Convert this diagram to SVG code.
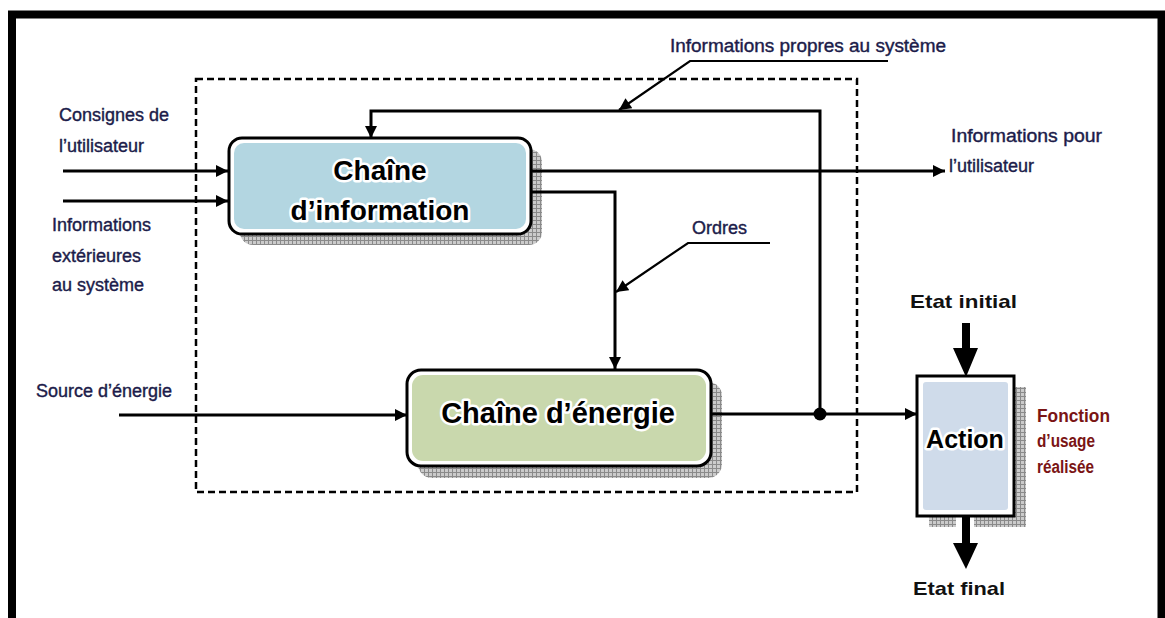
<svg xmlns="http://www.w3.org/2000/svg" width="1165" height="618" viewBox="0 0 1165 618">
  <style>
    .lbl { font-family: "Liberation Sans", Arial, sans-serif; font-size: 18px; fill: #1c1c4a; stroke: #1c1c4a; stroke-width: 0.4px; }
    .state { font-family: "Liberation Sans", Arial, sans-serif; font-size: 19px; font-weight: bold; fill: #111; }
    .usage { font-family: "Liberation Sans", Arial, sans-serif; font-size: 18px; font-weight: bold; fill: #7a1414; }
    .title { font-family: "Liberation Sans", Arial, sans-serif; font-weight: bold; fill: #000; text-anchor: middle;
             stroke: #fff; stroke-width: 5px; stroke-linejoin: round; paint-order: stroke fill; }
    .box { stroke: #000; stroke-width: 3; fill: #fff; }
    .link { fill: none; stroke: #000; stroke-width: 3; }
    .leader { fill: none; stroke: #000; stroke-width: 2.2; }
    .shadow { fill: url(#hatch); }
  </style>
  <defs>
    <pattern id="hatch" width="4" height="4" patternUnits="userSpaceOnUse">
      <rect width="4" height="4" fill="#cbcbcb"/>
      <path d="M0,0.5 H4 M0.5,0 V4" stroke="#8a8a8a" stroke-width="1"/>
    </pattern>
    <marker id="arrow" viewBox="0 0 10 10" refX="10" refY="5" markerWidth="13" markerHeight="12"
            markerUnits="userSpaceOnUse" orient="auto">
      <path d="M0,0 L10,5 L0,10 Z" fill="#000"/>
    </marker>
  </defs>

  <rect width="1165" height="618" fill="#fff"/>

  <!-- outer frame, open at the bottom -->
  <path d="M12,618 V14.5 H1161.5 V618" fill="none" stroke="#000" stroke-width="8"/>

  <!-- system boundary -->
  <rect x="196" y="79" width="661" height="413" fill="none" stroke="#000" stroke-width="2.5" stroke-dasharray="7 4"/>

  <!-- information chain -->
  <g id="chaine-information">
    <rect class="shadow" x="240" y="149" width="302" height="96" rx="13"/>
    <rect class="box" x="229" y="138" width="302" height="96" rx="13"/>
    <rect x="234" y="143" width="292" height="86" rx="10" fill="#b3d6e1"/>
    <text class="title" x="380" y="180" font-size="28">Chaîne</text>
    <text class="title" x="380" y="220" font-size="28">d’information</text>
  </g>

  <!-- energy chain -->
  <g id="chaine-energie">
    <rect class="shadow" x="418" y="382" width="304" height="96" rx="14"/>
    <rect class="box" x="407" y="370" width="304" height="96" rx="14"/>
    <rect x="412" y="375" width="294" height="86" rx="11" fill="#c9d8ad"/>
    <text class="title" x="558" y="423" font-size="29">Chaîne d’énergie</text>
  </g>

  <!-- action block -->
  <g id="action">
    <rect class="shadow" x="929" y="387" width="97" height="140"/>
    <rect x="956" y="515" width="18" height="14" fill="#fff"/>
    <rect class="box" x="917" y="376" width="97" height="140"/>
    <rect x="923" y="382" width="85" height="128" rx="3" fill="#cfdbea"/>
    <text class="title" x="965" y="448" font-size="25">Action</text>
  </g>

  <!-- connectors -->
  <g id="connectors">
    <path class="link" d="M63,171 H228" marker-end="url(#arrow)"/>
    <path class="link" d="M63,201 H228" marker-end="url(#arrow)"/>
    <path class="link" d="M531,171 H945" marker-end="url(#arrow)"/>
    <path class="link" d="M531,192 H615 V369" marker-end="url(#arrow)"/>
    <path class="link" d="M119,415 H407" marker-end="url(#arrow)"/>
    <path class="link" d="M711,414 H917" marker-end="url(#arrow)"/>
    <path class="link" d="M820,414 V111 H371 V138" marker-end="url(#arrow)"/>
    <circle cx="820" cy="414" r="6.5" fill="#000"/>
    <path class="leader" d="M888,61 H690 L619,110" marker-end="url(#arrow)"/>
    <path class="leader" d="M770,243 H688 L616,292" marker-end="url(#arrow)"/>
    <!-- thick state arrows -->
    <path d="M962,323 H970 V348 H978 L966,377 L953,348 H962 Z" fill="#000"/>
    <path d="M962,516 H970 V543 H978 L966,569 L953,543 H962 Z" fill="#000"/>
  </g>

  <!-- labels -->
  <text class="lbl" x="59" y="121">Consignes de</text>
  <text class="lbl" x="59" y="152">l’utilisateur</text>
  <text class="lbl" x="52" y="231">Informations</text>
  <text class="lbl" x="52" y="262">extérieures</text>
  <text class="lbl" x="52" y="291">au système</text>
  <text class="lbl" x="36" y="397">Source d’énergie</text>
  <text class="lbl" x="670" y="52" textLength="276" lengthAdjust="spacingAndGlyphs">Informations propres au système</text>
  <text class="lbl" x="951" y="142" textLength="151" lengthAdjust="spacingAndGlyphs">Informations pour</text>
  <text class="lbl" x="949" y="172">l’utilisateur</text>
  <text class="lbl" x="692" y="234">Ordres</text>
  <text class="state" x="910" y="308" textLength="107" lengthAdjust="spacingAndGlyphs">Etat initial</text>
  <text class="state" x="913" y="595" textLength="92" lengthAdjust="spacingAndGlyphs">Etat final</text>
  <text class="usage" x="1037" y="422" textLength="73" lengthAdjust="spacingAndGlyphs">Fonction</text>
  <text class="usage" x="1037" y="447" textLength="58" lengthAdjust="spacingAndGlyphs">d’usage</text>
  <text class="usage" x="1037" y="473" textLength="57" lengthAdjust="spacingAndGlyphs">réalisée</text>
</svg>
